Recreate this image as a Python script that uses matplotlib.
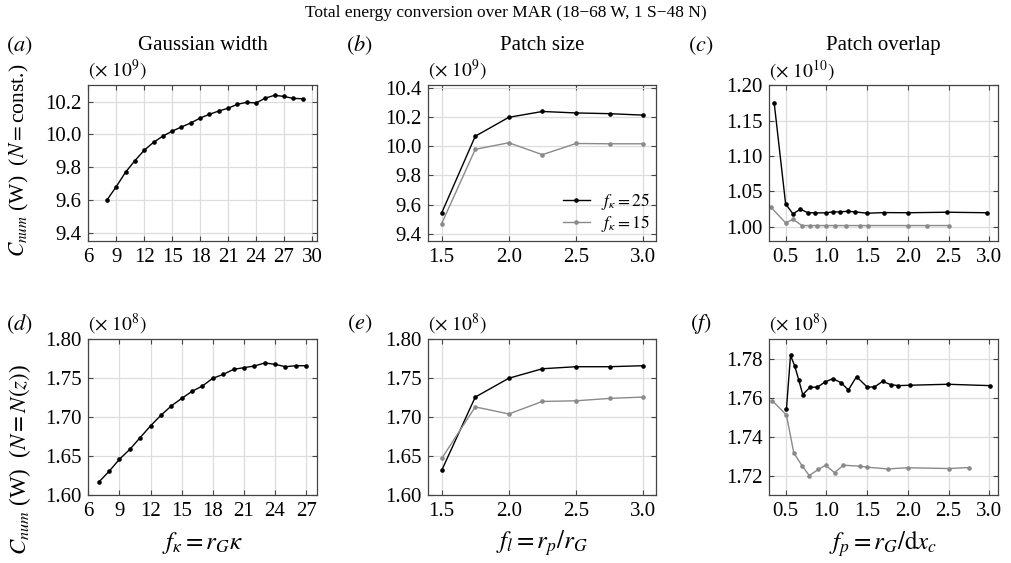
import numpy as np
import matplotlib
matplotlib.use('Agg')
import matplotlib.pyplot as plt

plt.rcParams['font.family'] = ['Liberation Serif', 'DejaVu Serif']
plt.rcParams['mathtext.fontset'] = 'stix'

# (a) Gaussian width, N = const. (x 1e9)
fk_a = [8, 9, 10, 11, 12, 13, 14, 15, 16, 17, 18, 19, 20, 21, 22, 23, 24, 25, 26, 27, 28, 29]
c_a = [9.60, 9.682, 9.77, 9.84, 9.904, 9.952, 9.99, 10.02, 10.046, 10.07, 10.10, 10.123,
       10.143, 10.16, 10.184, 10.196, 10.192, 10.222, 10.239, 10.232, 10.22, 10.218]

# (b) Patch size, N = const. (x 1e9)
fl_b = [1.5, 1.75, 2.0, 2.25, 2.5, 2.75, 3.0]
c_b25 = [9.543, 10.07, 10.20, 10.24, 10.23, 10.225, 10.215]
c_b15 = [9.47, 9.98, 10.025, 9.943, 10.02, 10.018, 10.018]

# (c) Patch overlap, N = const. (x 1e10)
fp_c25 = [0.36, 0.5, 0.59, 0.68, 0.77, 0.86, 1.0, 1.08, 1.17, 1.26, 1.35, 1.5, 1.71, 2.0, 2.48, 2.97]
c_c25 = [1.1747, 1.0324, 1.0183, 1.0248, 1.0201, 1.0197, 1.0197, 1.0211, 1.0211, 1.022,
         1.0211, 1.0192, 1.0201, 1.0199, 1.0206, 1.0199]
fp_c15 = [0.32, 0.5, 0.59, 0.7, 0.8, 0.89, 1.0, 1.11, 1.24, 1.41, 1.51, 2.0, 2.24, 2.5]
c_c15 = [1.0276, 1.0056, 1.0107, 1.0018, 1.0018, 1.0018, 1.0018, 1.0018, 1.0018, 1.0018,
         1.0018, 1.0018, 1.0018, 1.0018]

# (d) Gaussian width, N = N(z) (x 1e8)
fk_d = [7, 8, 9, 10, 11, 12, 13, 14, 15, 16, 17, 18, 19, 20, 21, 22, 23, 24, 25, 26, 27]
c_d = [1.6165, 1.6304, 1.646, 1.6586, 1.6738, 1.6889, 1.7024, 1.7145, 1.7241, 1.7332, 1.7401,
       1.75, 1.7549, 1.7614, 1.7636, 1.7657, 1.7696, 1.7679, 1.7648, 1.7661, 1.7661]

# (e) Patch size, N = N(z) (x 1e8)
fl_e = [1.5, 1.75, 2.0, 2.25, 2.5, 2.75, 3.0]
c_e25 = [1.6317, 1.7258, 1.75, 1.7622, 1.7648, 1.7648, 1.7661]
c_e15 = [1.6469, 1.7132, 1.7041, 1.7202, 1.721, 1.7241, 1.7258]

# (f) Patch overlap, N = N(z) (x 1e8)
fp_f25 = [0.51, 0.56, 0.61, 0.66, 0.71, 0.8, 0.89, 0.98, 1.08, 1.18, 1.27, 1.37, 1.5, 1.59,
          1.69, 1.79, 1.88, 2.02, 2.49, 3.01]
c_f25 = [1.7542, 1.7817, 1.7765, 1.7693, 1.7616, 1.7654, 1.7654, 1.768, 1.7698, 1.7677, 1.764,
         1.7708, 1.7655, 1.7655, 1.7684, 1.7667, 1.7662, 1.7664, 1.7669, 1.7662]
fp_f15 = [0.336, 0.51, 0.6, 0.7, 0.79, 0.9, 0.99, 1.1, 1.21, 1.41, 1.5, 1.75, 2.0, 2.5, 2.75]
c_f15 = [1.7585, 1.7511, 1.7317, 1.7251, 1.72, 1.7231, 1.7253, 1.7215, 1.7253, 1.7248, 1.7243,
         1.7234, 1.724, 1.7236, 1.7241]

BLACK = 'black'
GREY = '#8a8a8a'
FS = 15

fig = plt.figure(figsize=(10.12, 5.63), dpi=100)

lefts = [0.0873, 0.4232, 0.7602]
width = 0.2255
bottoms = [0.572, 0.1208]
height = 0.2765

axs = [[fig.add_axes([l, b, width, height]) for l in lefts] for b in bottoms]


def style(ax, xlim, xticks, ylim, yticks, yfmt, label, mult, title=None, xlabel=None):
    ax.set_xlim(*xlim)
    ax.set_ylim(*ylim)
    ax.set_xticks(xticks)
    ax.set_yticks(yticks)
    ax.set_yticklabels([yfmt.format(v) for v in yticks])
    if isinstance(xticks[0], float):
        ax.set_xticklabels(['{:.1f}'.format(v) for v in xticks])
    ax.grid(True, color='#dddddd', linewidth=0.9)
    ax.set_axisbelow(True)
    ax.tick_params(direction='in', top=True, right=True, length=3.5, width=0.8,
                   labelsize=FS, color='#444444', pad=5)
    for s in ax.spines.values():
        s.set_color('#444444')
        s.set_linewidth(0.9)
    ax.text(-0.30, 1.10 if title is None else 1.256, label, transform=ax.transAxes,
            fontsize=16, ha='center', va='center')
    ax.text(0.0, 1.097, mult, transform=ax.transAxes, fontsize=14, ha='left', va='center')
    if title is not None:
        ax.text(0.5, 1.256, title, transform=ax.transAxes, fontsize=FS, ha='center', va='center')
    if xlabel is not None:
        ax.text(0.5, -0.31, xlabel, transform=ax.transAxes, fontsize=18, ha='center', va='center')


kw = dict(marker='o', markersize=2.3, linewidth=1.0)

# top row
ax = axs[0][0]
ax.plot(fk_a, c_a, color=BLACK, **kw)
style(ax, (6, 30.5), list(range(6, 31, 3)), (9.35, 10.3), [9.4, 9.6, 9.8, 10.0, 10.2], '{:.1f}',
      '$(a)$', r'$(\times\ 10^{9})$', title='Gaussian width')

ax = axs[0][1]
ax.plot(fl_b, c_b25, color=BLACK, label=r'$f_\kappa = 25$', **kw)
ax.plot(fl_b, c_b15, color=GREY, label=r'$f_\kappa = 15$', **kw)
style(ax, (1.4, 3.1), [1.5, 2.0, 2.5, 3.0], (9.35, 10.42), [9.4, 9.6, 9.8, 10.0, 10.2, 10.4], '{:.1f}',
      '$(b)$', r'$(\times\ 10^{9})$', title='Patch size')
ax.legend(loc='lower right', frameon=False, fontsize=12.5, handlelength=1.6,
          handletextpad=0.6, labelspacing=0.05, borderaxespad=0.0)

ax = axs[0][2]
ax.plot(fp_c25, c_c25, color=BLACK, **kw)
ax.plot(fp_c15, c_c15, color=GREY, **kw)
style(ax, (0.3, 3.1), [0.5, 1.0, 1.5, 2.0, 2.5, 3.0], (0.98, 1.20), [1.00, 1.05, 1.10, 1.15, 1.20],
      '{:.2f}', '$(c)$', r'$(\times\ 10^{10})$', title='Patch overlap')

# bottom row
ax = axs[1][0]
ax.plot(fk_d, c_d, color=BLACK, **kw)
style(ax, (6, 28), list(range(6, 28, 3)), (1.60, 1.80), [1.60, 1.65, 1.70, 1.75, 1.80], '{:.2f}',
      '$(d)$', r'$(\times\ 10^{8})$', xlabel=r'$f_\kappa = r_G\kappa$')

ax = axs[1][1]
ax.plot(fl_e, c_e25, color=BLACK, **kw)
ax.plot(fl_e, c_e15, color=GREY, **kw)
style(ax, (1.4, 3.1), [1.5, 2.0, 2.5, 3.0], (1.60, 1.80), [1.60, 1.65, 1.70, 1.75, 1.80], '{:.2f}',
      '$(e)$', r'$(\times\ 10^{8})$', xlabel=r'$f_l = r_p/r_G$')

ax = axs[1][2]
ax.plot(fp_f25, c_f25, color=BLACK, **kw)
ax.plot(fp_f15, c_f15, color=GREY, **kw)
style(ax, (0.3, 3.1), [0.5, 1.0, 1.5, 2.0, 2.5, 3.0], (1.71, 1.79), [1.72, 1.74, 1.76, 1.78], '{:.2f}',
      '$(f)$', r'$(\times\ 10^{8})$', xlabel=r'$f_p = r_G/\mathrm{d}x_c$')

# y labels
axs[0][0].text(-0.30, 0.52, r'$C_{num}$ (W)  ($N = $const.)', transform=axs[0][0].transAxes,
               rotation=90, fontsize=15.5, ha='center', va='center')
axs[1][0].text(-0.30, 0.23, r'$C_{num}$ (W)  ($N = N(z)$)', transform=axs[1][0].transAxes,
               rotation=90, fontsize=16.5, ha='center', va='center')

fig.text(0.5, 1 - 13 / 563, 'Total energy conversion over MAR (18\u221268 W, 1 S\u221248 N)',
         ha='center', va='center', fontsize=12.5)

plt.savefig('out.png', dpi=100)
